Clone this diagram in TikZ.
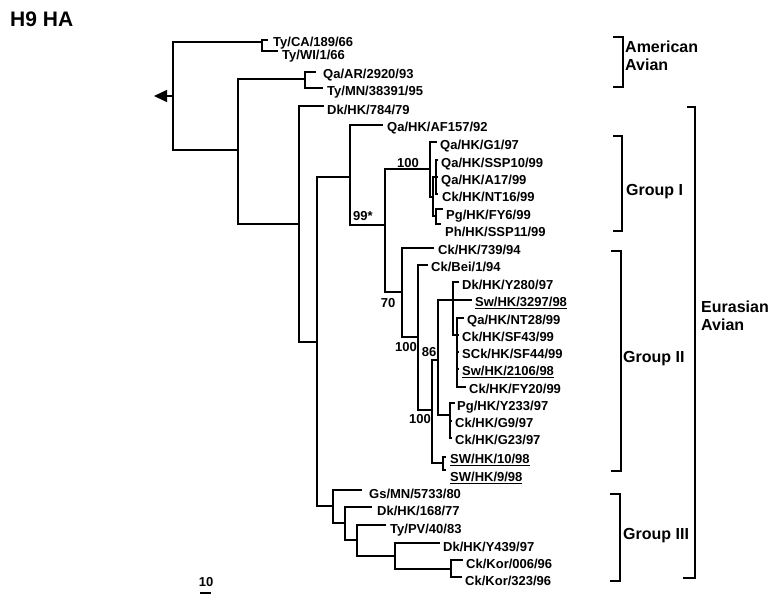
\documentclass[tikz,border=0pt]{standalone}
\usepackage{fontspec}
\setmainfont{Liberation Sans}
\usetikzlibrary{arrows.meta}
\newcommand\mkleaf[6]{%
  \coordinate (#1) at (#2,#3);
  \node[lbl] (#1-t) at (#4,#5) {#6};}
\begin{document}
\begin{tikzpicture}[x=1pt,y=-1pt,
  br/.style={line width=1.3pt, line join=miter},
  brk/.style={line width=1.3pt, line join=miter},
  lbl/.style={anchor=west, inner sep=0pt, text height=9.3pt, text depth=0pt,
              font=\fontsize{13}{15}\selectfont\bfseries},
  bs/.style={inner sep=0pt, font=\fontsize{13}{15}\selectfont\bfseries},
  grp/.style={inner sep=0pt, align=left, font=\fontsize{16}{18}\selectfont\bfseries}]
\useasboundingbox (0,0) rectangle (773,603);

\node[anchor=base west, inner sep=0pt, font=\fontsize{21}{25}\selectfont\bfseries] (title) at (10,26) {H9 HA};

% internal nodes
\coordinate (R) at (173,96);
\coordinate (arrowtip) at (154,96);
\coordinate (N1) at (262,42);
\coordinate (N2) at (238,150);
\coordinate (N3) at (305,79);
\coordinate (N4) at (299,224);
\coordinate (N5) at (317,342);
\coordinate (N6) at (350,177);
\coordinate (N7) at (385,225);
\coordinate (N8) at (430,169);
\coordinate (N8b) at (433,197);
\coordinate (N8c) at (436,177);
\coordinate (N8d) at (436,216);
\coordinate (N9) at (402,292);
\coordinate (N10) at (418,337);
\coordinate (N11) at (432,410);
\coordinate (N12) at (438,360);
\coordinate (N13) at (453,300);
\coordinate (N14) at (457,335);
\coordinate (N18) at (450,415);
\coordinate (N19) at (443,463);
\coordinate (N20) at (333,506);
\coordinate (N21) at (345,523);
\coordinate (N22) at (357,540);
\coordinate (N23) at (395,556);
\coordinate (N24) at (451,569);

% leaves
\mkleaf{tyca}{268}{40}{273}{42}{Ty/CA/189/66}
\mkleaf{tywi}{278}{51}{282}{54.5}{Ty/WI/1/66}
\mkleaf{qaar}{316}{72}{323}{74}{Qa/AR/2920/93}
\mkleaf{tymn}{323}{88}{327}{91}{Ty/MN/38391/95}
\mkleaf{dkA}{324}{106}{327}{110}{Dk/HK/784/79}
\mkleaf{afA}{383}{125}{387}{127}{Qa/HK/AF157/92}
\mkleaf{gA}{437}{142}{440}{145}{Qa/HK/G1/97}
\mkleaf{sspA}{438}{160}{441}{163}{Qa/HK/SSP10/99}
\mkleaf{aA}{438}{177}{441}{180}{Qa/HK/A17/99}
\mkleaf{ntA}{438}{194}{442}{197}{Ck/HK/NT16/99}
\mkleaf{fyA}{443}{209}{446}{215}{Pg/HK/FY6/99}
\mkleaf{sspB}{441}{224}{445}{232}{Ph/HK/SSP11/99}
\mkleaf{ckA}{434}{248}{438}{250}{Ck/HK/739/94}
\mkleaf{bei}{428}{265}{431}{267}{Ck/Bei/1/94}
\mkleaf{yA}{459}{282}{462}{285}{Dk/HK/Y280/97}
\mkleaf{swA}{472}{300}{475}{302}{\underline{Sw/HK/3297/98}}
\mkleaf{ntB}{464}{318}{467}{320}{Qa/HK/NT28/99}
\mkleaf{sfA}{459}{335}{462}{337}{Ck/HK/SF43/99}
\mkleaf{sfB}{459}{352}{462}{354}{SCk/HK/SF44/99}
\mkleaf{swB}{459}{369}{462}{371}{\underline{Sw/HK/2106/98}}
\mkleaf{fyB}{466}{387}{469}{389}{Ck/HK/FY20/99}
\mkleaf{yB}{455}{403}{457}{406}{Pg/HK/Y233/97}
\mkleaf{gB}{452}{421}{455}{423}{Ck/HK/G9/97}
\mkleaf{gC}{452}{438}{455}{440}{Ck/HK/G23/97}
\mkleaf{swC}{446}{457}{450}{459}{\underline{SW/HK/10/98}}
\mkleaf{swD}{446}{470}{450}{477}{\underline{SW/HK/9/98}}
\mkleaf{gs}{362}{490}{369}{494}{Gs/MN/5733/80}
\mkleaf{dkB}{372}{507}{377}{511}{Dk/HK/168/77}
\mkleaf{typv}{386}{525}{390}{529}{Ty/PV/40/83}
\mkleaf{yC}{440}{543}{443}{547}{Dk/HK/Y439/97}
\mkleaf{korA}{463}{560}{466}{564}{Ck/Kor/006/96}
\mkleaf{korB}{462}{577}{465}{581}{Ck/Kor/323/96}

% branches
\foreach \p/\c in {R/N1, R/N2, N1/tyca, N1/tywi, N2/N3, N2/N4, N3/qaar, N3/tymn,
  N4/dkA, N4/N5, N5/N6, N5/N20, N6/afA, N6/N7, N7/N8, N7/N9,
  N8/gA, N8/N8b, N8b/N8c, N8b/N8d, N8c/sspA, N8c/aA, N8c/ntA, N8d/fyA, N8d/sspB,
  N9/ckA, N9/N10, N10/bei, N10/N11, N11/N12, N11/N19, N12/N13, N12/N18,
  N13/yA, N13/swA, N13/N14, N14/ntB, N14/sfA, N14/sfB, N14/swB, N14/fyB,
  N18/yB, N18/gB, N18/gC, N19/swC, N19/swD,
  N20/gs, N20/N21, N21/dkB, N21/N22, N22/typv, N22/N23, N23/yC, N23/N24,
  N24/korA, N24/korB}
  \draw[br] (\p) |- (\c);

\draw[br, -{Triangle[length=13pt,width=12pt]}] (R) -- (arrowtip);

% bootstrap values
\node[bs] (b1) at (408,163) {100};
\node[bs] (b2) at (363,216) {99*};
\node[bs] (b3) at (388,303) {70};
\node[bs] (b4) at (406,347) {100};
\node[bs] (b5) at (429,352) {86};
\node[bs] (b6) at (420,419) {100};

% scale bar
\coordinate (sbA) at (200,593);
\coordinate (sbB) at (211,593);
\draw[br] (sbA) -- (sbB);
\node[bs] (sbl) at (206,582) {10};

% group brackets
\draw[brk] (613,37) -- (623,37) -- (623,87) -- (613,87);
\draw[brk] (613,136) -- (622,136) -- (622,231) -- (613,231);
\draw[brk] (687,107) -- (695,107) -- (695,578) -- (683,578);
\draw[brk] (611,251) -- (621,251) -- (621,471) -- (611,471);
\draw[brk] (610,494) -- (620,494) -- (620,581) -- (610,581);

\node[grp, anchor=west] (gAm) at (625,56) {American\\Avian};
\node[grp, anchor=base west] (gI) at (626,195) {Group I};
\node[grp, anchor=base west] (gII) at (623,362) {Group II};
\node[grp, anchor=base west] (gIII) at (623,539) {Group III};
\node[grp, anchor=west] (gEu) at (701,316) {Eurasian\\Avian};
\end{tikzpicture}
\end{document}
